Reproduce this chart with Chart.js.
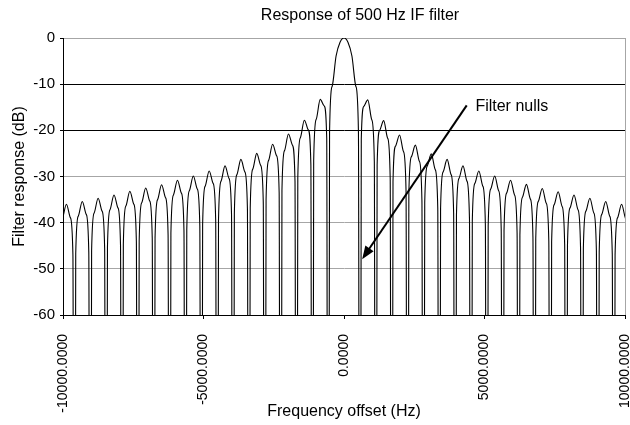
<!DOCTYPE html>
<html lang="en">
<head>
<meta charset="UTF-8">
<title>Response of 500 Hz IF filter</title>
<script src="https://cdn.jsdelivr.net/npm/chart.js"></script>
<style>
  body { margin: 0; background: #fff; }
</style>
</head>
<body>
<canvas id="filterChart" width="630" height="425"></canvas>
<script>
// Points. Each lobe: null, edge, shoulder, peak, shoulder, edge.
// Nulls go far below the -60 dB floor and get clipped.
const freqHz = [
  -10161, -10111, -10020, -9879, -9738, -9647,
  -9597, -9547, -9456, -9314, -9173, -9082,
  -9032, -8982, -8891, -8750, -8609, -8518,
  -8468, -8418, -8327, -8185, -8044, -7953,
  -7903, -7853, -7762, -7621, -7480, -7389,
  -7339, -7289, -7198, -7056, -6915, -6824,
  -6774, -6724, -6633, -6492, -6351, -6260,
  -6210, -6160, -6069, -5927, -5786, -5695,
  -5645, -5595, -5504, -5363, -5222, -5131,
  -5081, -5031, -4940, -4798, -4657, -4566,
  -4516, -4466, -4375, -4234, -4093, -4002,
  -3952, -3902, -3811, -3669, -3528, -3437,
  -3387, -3337, -3246, -3105, -2964, -2873,
  -2823, -2773, -2682, -2540, -2399, -2308,
  -2258, -2208, -2117, -1976, -1835, -1744,
  -1694, -1644, -1553, -1411, -1270, -1179,
  -1129, -1079, -988, -847, -706, -615,
  -565, -514, -423, -282, -141, 0, 141, 282, 423, 514,
  565, 615, 706, 847, 988, 1079,
  1129, 1179, 1270, 1411, 1553, 1644,
  1694, 1744, 1835, 1976, 2117, 2208,
  2258, 2308, 2399, 2540, 2682, 2773,
  2823, 2873, 2964, 3105, 3246, 3337,
  3387, 3437, 3528, 3669, 3811, 3902,
  3952, 4002, 4093, 4234, 4375, 4466,
  4516, 4566, 4657, 4798, 4940, 5031,
  5081, 5131, 5222, 5363, 5504, 5595,
  5645, 5695, 5786, 5927, 6069, 6160,
  6210, 6260, 6351, 6492, 6633, 6724,
  6774, 6824, 6915, 7056, 7198, 7289,
  7339, 7389, 7480, 7621, 7762, 7853,
  7903, 7953, 8044, 8185, 8327, 8418,
  8468, 8518, 8609, 8750, 8891, 8982,
  9032, 9082, 9173, 9314, 9456, 9547,
  9597, 9647, 9738, 9879, 10020, 10111,
  10161
];

const responseDb = [
  -200, -47.4, -39.1, -36.0, -38.9, -47.0,
  -200, -46.8, -38.6, -35.4, -38.2, -46.4,
  -200, -46.1, -37.9, -34.7, -37.5, -45.6,
  -200, -45.4, -37.2, -34.0, -36.8, -44.9,
  -200, -44.7, -36.4, -33.2, -36.0, -44.1,
  -200, -44.0, -35.7, -32.5, -35.3, -43.4,
  -200, -43.3, -35.0, -31.8, -34.6, -42.7,
  -200, -42.3, -34.0, -30.8, -33.6, -41.7,
  -200, -41.5, -33.1, -29.9, -32.7, -40.7,
  -200, -40.4, -32.1, -28.8, -31.5, -39.6,
  -200, -39.4, -31.0, -27.7, -30.4, -38.4,
  -200, -38.0, -29.6, -26.3, -29.0, -36.9,
  -200, -36.8, -28.4, -25.0, -27.6, -35.5,
  -200, -35.0, -26.5, -23.0, -25.5, -33.4,
  -200, -33.0, -24.4, -20.8, -23.2, -30.9,
  -200, -30.3, -21.6, -17.8, -19.9, -27.4,
  -200, -26.6, -17.6, -13.3, -14.7, -21.7,
  -200, -20.4, -10.5, -3.9, -0.9, 0, -0.9, -3.9, -10.5, -20.4,
  -200, -21.8, -14.8, -13.4, -17.7, -26.7,
  -200, -27.5, -20.0, -17.9, -21.7, -30.4,
  -200, -31.1, -23.4, -21.0, -24.6, -33.2,
  -200, -33.6, -25.7, -23.2, -26.7, -35.2,
  -200, -35.6, -27.7, -25.1, -28.5, -36.9,
  -200, -36.9, -29.0, -26.3, -29.6, -38.0,
  -200, -38.4, -30.4, -27.7, -31.0, -39.4,
  -200, -39.6, -31.5, -28.8, -32.1, -40.4,
  -200, -40.7, -32.7, -29.9, -33.1, -41.5,
  -200, -41.7, -33.6, -30.8, -34.0, -42.3,
  -200, -42.6, -34.5, -31.7, -34.9, -43.2,
  -200, -43.5, -35.4, -32.6, -35.8, -44.1,
  -200, -44.2, -36.1, -33.3, -36.5, -44.8,
  -200, -44.9, -36.8, -34.0, -37.2, -45.4,
  -200, -45.6, -37.5, -34.7, -37.9, -46.1,
  -200, -46.4, -38.2, -35.4, -38.6, -46.8,
  -200, -47.0, -38.9, -36.0, -39.1, -47.4,
  -200
];

const xTicks = [-10000, -5000, 0, 5000, 10000];
const yTicks = [0, -10, -20, -30, -40, -50, -60];
const darkGridDb = [-10, -20, -60];

const chartTitle = 'Response of 500 Hz IF filter';
const nullsLabel = 'Filter nulls';
const nullsLabelAt = [4676, -14.9];
const nullsArrowFrom = [4367, -14.6];
const nullsArrowTo = [647, -47.9];

const FONT = '"Liberation Sans", Arial, sans-serif';
Chart.defaults.font.family = FONT;
Chart.defaults.color = '#000';

// right frame edge, title and the "Filter nulls" callout
const extras = {
  id: 'extras',
  beforeDatasetsDraw(chart) {
    const { ctx, chartArea: a } = chart;
    ctx.save();
    ctx.strokeStyle = '#a6a6a6';
    ctx.lineWidth = 1;
    ctx.beginPath();
    ctx.moveTo(a.right + 0.5, a.top);
    ctx.lineTo(a.right + 0.5, a.bottom);
    ctx.stroke();
    ctx.restore();
  },
  afterDraw(chart) {
    const { ctx, scales: { x, y } } = chart;
    ctx.save();
    ctx.fillStyle = '#000';
    ctx.strokeStyle = '#000';
    ctx.font = '16px ' + FONT;
    ctx.textAlign = 'center';
    ctx.textBaseline = 'alphabetic';
    ctx.fillText(chartTitle, 360, 20);

    ctx.textAlign = 'left';
    ctx.textBaseline = 'middle';
    ctx.fillText(nullsLabel, x.getPixelForValue(nullsLabelAt[0]), y.getPixelForValue(nullsLabelAt[1]));

    const x0 = x.getPixelForValue(nullsArrowFrom[0]), y0 = y.getPixelForValue(nullsArrowFrom[1]);
    const x1 = x.getPixelForValue(nullsArrowTo[0]), y1 = y.getPixelForValue(nullsArrowTo[1]);
    const ang = Math.atan2(y1 - y0, x1 - x0);
    const c = Math.cos(ang), s = Math.sin(ang);
    const head = 13, half = 5;
    ctx.lineWidth = 2;
    ctx.beginPath();
    ctx.moveTo(x0, y0);
    ctx.lineTo(x1 - head * 0.8 * c, y1 - head * 0.8 * s);
    ctx.stroke();
    ctx.beginPath();
    ctx.moveTo(x1, y1);
    ctx.lineTo(x1 - head * c + half * s, y1 - head * s - half * c);
    ctx.lineTo(x1 - head * c - half * s, y1 - head * s + half * c);
    ctx.closePath();
    ctx.fill();
    ctx.restore();
  }
};

new Chart(document.getElementById('filterChart'), {
  type: 'line',
  data: {
    datasets: [{
      data: freqHz.map((f, i) => ({ x: f, y: responseDb[i] })),
      borderColor: '#000',
      borderWidth: 1.1,
      pointRadius: 0,
      fill: false,
      tension: 0.4,
      cubicInterpolationMode: 'monotone'
    }]
  },
  options: {
    responsive: false,
    animation: false,
    events: [],
    layout: { padding: { top: 38, right: 5, left: 0, bottom: 0 } },
    plugins: { legend: { display: false }, tooltip: { enabled: false }, title: { display: false } },
    scales: {
      x: {
        type: 'linear',
        min: -10000,
        max: 10000,
        afterBuildTicks: s => { s.ticks = xTicks.map(v => ({ value: v })); },
        afterFit: s => { s.height = 110; s.paddingLeft = 0; s.paddingRight = 0; },
        ticks: {
          autoSkip: false,
          minRotation: 90,
          maxRotation: 90,
          padding: 15,
          font: { size: 14 },
          callback: v => Number(v).toFixed(4)
        },
        grid: { drawOnChartArea: false, tickLength: 4, color: '#000' },
        border: { color: '#000', width: 1 },
        title: {
          display: true,
          text: 'Frequency offset (Hz)',
          font: { size: 16 },
          padding: { top: 0, bottom: 4 }
        }
      },
      y: {
        min: -60,
        max: 0,
        afterBuildTicks: s => { s.ticks = yTicks.map(v => ({ value: v })); },
        afterFit: s => { s.width = 63; },
        ticks: { padding: 5, font: { size: 15 }, callback: v => String(v) },
        grid: {
          tickLength: 3,
          tickColor: '#000',
          color: c => darkGridDb.includes(c.tick && c.tick.value) ? '#000' : '#a6a6a6'
        },
        border: { color: '#000', width: 1 },
        title: {
          display: true,
          text: 'Filter response (dB)',
          font: { size: 16 },
          padding: { top: 10, bottom: 0 }
        }
      }
    }
  },
  plugins: [extras]
});
</script>
</body>
</html>
